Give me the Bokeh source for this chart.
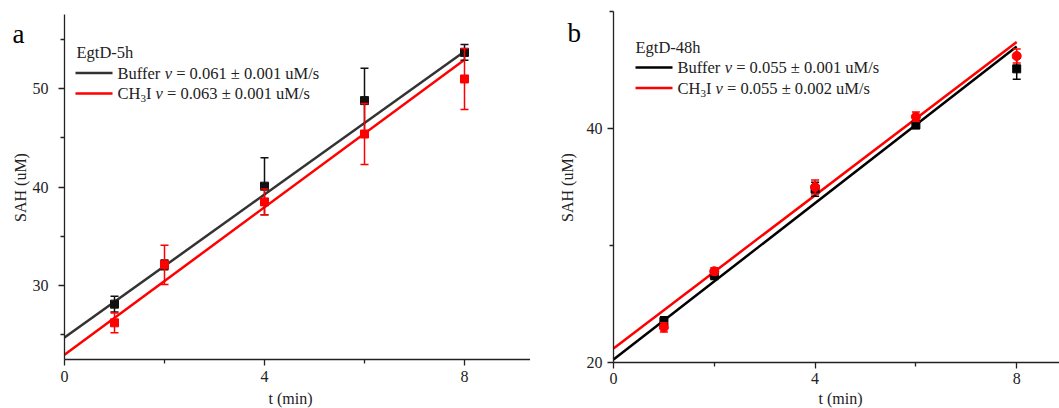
import math
from bokeh.plotting import figure
from bokeh.layouts import row
from bokeh.models import Label, FixedTicker, Range1d
from bokeh.embed import file_html
from bokeh.resources import INLINE

# ---------------- data ----------------
t = [1, 2, 4, 6, 8]
fit_t = [0, 8]

a_buffer = [28.1, 32.1, 40.1, 48.8, 53.7]
a_buffer_err = [0.8, 0.5, 2.9, 3.3, 0.8]
a_ch3i = [26.2, 32.1, 38.5, 45.4, 51.0]
a_ch3i_err = [1.0, 2.0, 1.3, 3.1, 3.1]
a_fit_buffer = [24.7, 53.8]
a_fit_ch3i = [22.95, 52.95]

b_buffer = [23.5, 27.5, 34.8, 40.3, 45.1]
b_buffer_err = [0.4, 0.4, 0.6, 0.3, 0.9]
b_ch3i = [23.0, 27.8, 35.0, 41.0, 46.2]
b_ch3i_err = [0.4, 0.3, 0.6, 0.4, 0.6]
b_fit_buffer = [20.25, 47.0]
b_fit_ch3i = [21.2, 47.4]

x_major = [0, 4, 8]
x_minor = [2, 6]
a_y_major = [30, 40, 50]
a_y_minor = [25, 35, 45, 55]
b_y_major = [20, 40]
b_y_minor = [30, 50]

a_title = "EgtD-5h"
a_rates = ["0.061 \u00b1 0.001", "0.063 \u00b1 0.001"]
b_title = "EgtD-48h"
b_rates = ["0.055 \u00b1 0.001", "0.055 \u00b1 0.002"]
x_label = "t (min)"
y_label = "SAH (uM)"

FONT = "Liberation Serif"
AXC = "#222222"
RED = "#ff0000"
NB = "\u00a0"
H = 408


def make_fig(width, fx, fy, x0px, x1px, xaxis_bounds, yaxis_bounds, ymaj, ymin,
             lab_standoff, xlab_standoff):
    # frame covers the whole canvas; axes are pinned at the data origin
    p = figure(width=width, height=H,
               x_range=Range1d(fx(x0px), fx(x1px)), y_range=Range1d(fy(H), fy(0)),
               output_backend="svg", toolbar_location=None, title=None,
               min_border_left=0, min_border_right=0,
               min_border_top=0, min_border_bottom=0)
    p.outline_line_color = None
    p.grid.visible = False
    p.background_fill_color = "white"
    p.border_fill_color = "white"
    p.xaxis.ticker = FixedTicker(ticks=x_major, minor_ticks=x_minor)
    p.yaxis.ticker = FixedTicker(ticks=ymaj, minor_ticks=ymin)
    p.xaxis.fixed_location = yaxis_bounds[0]
    p.yaxis.fixed_location = xaxis_bounds[0]
    p.xaxis.bounds = xaxis_bounds
    p.yaxis.bounds = yaxis_bounds
    for ax in (p.xaxis, p.yaxis):
        ax.axis_line_color = AXC
        ax.axis_line_width = 1.3
        ax.major_tick_line_color = AXC
        ax.minor_tick_line_color = AXC
        ax.major_tick_line_width = 1.3
        ax.minor_tick_line_width = 1.3
        ax.major_tick_in = 0
        ax.major_tick_out = 6
        ax.minor_tick_in = 0
        ax.minor_tick_out = 4
        ax.major_label_text_font = FONT
        ax.major_label_text_font_size = "16px"
        ax.major_label_text_color = AXC
    p.xaxis.major_label_standoff = xlab_standoff
    p.yaxis.major_label_standoff = lab_standoff
    return p


def add_text(p, fx, fy, px, py, text, size="16.5px", style="normal",
             align="left", baseline="middle", angle=0.0, color=AXC):
    p.add_layout(Label(x=fx(px), y=fy(py), text=text, text_font=FONT,
                       text_font_size=size, text_font_style=style,
                       text_align=align, text_baseline=baseline,
                       angle=angle, text_color=color))


def draw_series(p, ys, errs, color, marker, size):
    up = [y + e for y, e in zip(ys, errs)]
    lo = [y - e for y, e in zip(ys, errs)]
    p.segment(x0=t, y0=lo, x1=t, y1=up, line_color=color, line_width=1.5)
    p.scatter(x=t + t, y=up + lo, marker="dash", size=8, line_color=color,
              line_width=1.5)
    p.scatter(x=t, y=ys, marker=marker, size=size, fill_color=color,
              line_color=color)


def legend(p, fx, fy, title, rates, colors, tx, ty, lx0, lx1, rows_y, textx):
    F = 16.5
    add_text(p, fx, fy, tx, ty, title)
    for k in range(2):
        yy = rows_y[k]
        p.line(x=[fx(lx0), fx(lx1)], y=[fy(yy), fy(yy)], line_color=colors[k],
               line_width=2.5)
        x = textx
        if k == 0:
            add_text(p, fx, fy, x, yy, "Buffer")
            x += 2.86 * F
        else:
            add_text(p, fx, fy, x, yy, "CH")
            x += 1.389 * F
            add_text(p, fx, fy, x, yy + 5, "3", size="11px")
            x += 5.5
            add_text(p, fx, fy, x, yy, "I")
            x += 0.583 * F
        add_text(p, fx, fy, x, yy, "v", style="italic")
        x += 0.444 * F
        add_text(p, fx, fy, x, yy, NB + "=" + NB + rates[k].replace(" ", NB) + NB + "uM/s")


# ---------------- panel a ----------------
fxa = lambda px: (px - 64) / 50.0
fya = lambda py: 22.47 + (359 - py) / 9.833
pa = make_fig(530, fxa, fya, 0, 530, (0, fxa(530)), (fya(359), fya(14)),
              a_y_major, a_y_minor, 10, 5)
pa.line(x=fit_t, y=a_fit_buffer, line_color="#333333", line_width=2.5)
pa.line(x=fit_t, y=a_fit_ch3i, line_color=RED, line_width=2.5)
draw_series(pa, a_buffer, a_buffer_err, "#111111", "square", 8)
draw_series(pa, a_ch3i, a_ch3i_err, RED, "square", 8)
legend(pa, fxa, fya, a_title, a_rates, ["#333333", RED], 76, 51.5, 75, 112,
       [72.5, 93], 117)
add_text(pa, fxa, fya, 12, 33, "a", size="27px", baseline="alphabetic", color="black")
add_text(pa, fxa, fya, 290, 398, x_label, size="16px", align="center")
add_text(pa, fxa, fya, 20, 187, y_label, size="16px", align="center",
         angle=math.pi / 2)

# ---------------- panel b ----------------
fxb = lambda px: (px - 613) / 50.4
fyb = lambda py: 20 + (362 - py) / 11.7
pb = make_fig(529, fxb, fyb, 530, 1059, (0, fxb(1059)), (fyb(362), fyb(11)),
              b_y_major, b_y_minor, 5, 4)
pb.line(x=fit_t, y=b_fit_buffer, line_color="black", line_width=2.5)
pb.line(x=fit_t, y=b_fit_ch3i, line_color=RED, line_width=2.5)
draw_series(pb, b_buffer, b_buffer_err, "black", "square", 8)
draw_series(pb, b_ch3i, b_ch3i_err, RED, "circle", 9)
legend(pb, fxb, fyb, b_title, b_rates, ["black", RED], 635, 47, 635, 672,
       [67, 87.5], 677)
add_text(pb, fxb, fyb, 567, 32, "b", size="27px", baseline="alphabetic", color="black")
add_text(pb, fxb, fyb, 840, 398, x_label, size="16px", align="center")
add_text(pb, fxb, fyb, 567, 187, y_label, size="16px", align="center",
         angle=math.pi / 2)

layout = row(pa, pb, spacing=0)
open("out.html", "w").write(file_html(layout, INLINE))
